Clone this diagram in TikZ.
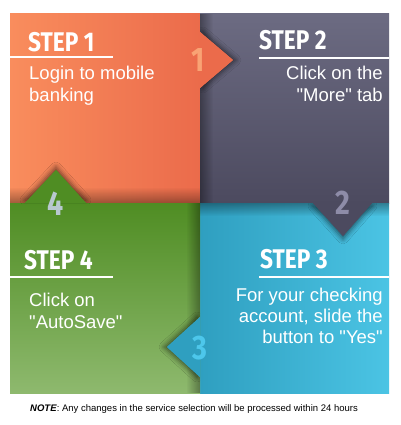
\documentclass[tikz,border=0pt]{standalone}
\usepackage{fontspec}
\setmainfont{Liberation Sans}[Ligatures=TeXOff]
\newfontfamily\stepfont[FakeStretch=0.84]{Fira Sans}
\usetikzlibrary{fadings,shadows.blur}

\definecolor{orangeL}{HTML}{F98D5D}
\definecolor{orangeD}{HTML}{EB6B4B}
\definecolor{slateL}{HTML}{6C6B82}
\definecolor{slateD}{HTML}{4C4A5F}
\definecolor{aquaD}{HTML}{2F9FC0}
\definecolor{aquaL}{HTML}{4BC4E4}
\definecolor{leafD}{HTML}{4F8D23}
\definecolor{leafL}{HTML}{8EB96E}
\definecolor{numone}{HTML}{F9A374}
\definecolor{numtwo}{HTML}{8E8CA8}
\definecolor{numthree}{HTML}{4DC7EB}
\definecolor{numfour}{HTML}{B8C8CF}

\tikzfading[name=fadeS, top color=transparent!100, bottom color=transparent!0]
\tikzfading[name=fadeN, top color=transparent!0, bottom color=transparent!100]
\tikzfading[name=fadeW, left color=transparent!0, right color=transparent!100]
\tikzfading[name=fadeE, left color=transparent!100, right color=transparent!0]

\tikzset{
  steptitle/.style={font=\stepfont\bfseries\fontsize{27}{27}\selectfont, text=white, inner sep=0pt},
  stepnum/.style={font=\stepfont\bfseries\fontsize{34}{34}\selectfont, inner sep=0pt},
  body/.style={font=\fontsize{18.5}{22}\selectfont, text=white, inner sep=0pt},
  rule/.style={white, line width=2pt},
  edgeshade/.style={black, opacity=0.35},
}

\begin{document}
\begin{tikzpicture}[x=1pt,y=-1pt]
\useasboundingbox (0,0) rectangle (400,425);
\fill[white] (0,0) rectangle (400,425);
% the four quarters
\shade[left color=orangeL, right color=orangeD] (10,14) rectangle (200,203);
\shade[top color=slateL, bottom color=slateD] (200,14) rectangle (389,203);
\shade[left color=aquaD, right color=aquaL] (200,203) rectangle (389,393);
\shade[top color=leafD, bottom color=leafL] (10,203) rectangle (200,393);
% shade along the borders
\fill[edgeshade, path fading=fadeS] (10,187) rectangle (200,203);
\fill[edgeshade, path fading=fadeW] (200,14) rectangle (213,203);
\fill[edgeshade, path fading=fadeN] (200,203) rectangle (389,216);
\fill[edgeshade, path fading=fadeE] (186,203) rectangle (200,393);
% pointers
\begin{scope}
\clip (200,14) rectangle (389,203);
\fill[orangeD, blur shadow={shadow xshift=3pt, shadow yshift=0pt, shadow opacity=55, shadow blur radius=5pt}] (200,32) -- (233,60) -- (200,88) -- cycle;
\end{scope}
\fill[orangeD] (200,32) -- (233,60) -- (200,88) -- cycle;
\begin{scope}
\clip (200,203) rectangle (389,393);
\fill[slateD, blur shadow={shadow xshift=0pt, shadow yshift=-3pt, shadow opacity=55, shadow blur radius=5pt}] (313,203) -- (343,236) -- (372,203) -- cycle;
\end{scope}
\fill[slateD] (313,203) -- (343,236) -- (372,203) -- cycle;
\begin{scope}
\clip (10,203) rectangle (200,393);
\fill[aquaD, blur shadow={shadow xshift=-3pt, shadow yshift=0pt, shadow opacity=55, shadow blur radius=5pt}] (200,317) -- (167,347) -- (200,377) -- cycle;
\end{scope}
\fill[aquaD] (200,317) -- (167,347) -- (200,377) -- cycle;
\begin{scope}
\clip (10,14) rectangle (200,203);
\fill[leafD, blur shadow={shadow xshift=0pt, shadow yshift=3pt, shadow opacity=55, shadow blur radius=5pt}] (25,203) -- (56,170) -- (86,203) -- cycle;
\end{scope}
\fill[leafD] (25,203) -- (56,170) -- (86,203) -- cycle;
% numbers
\node[stepnum, text=numone] (n1) at (198,60) {1};
\node[stepnum, text=numtwo] (n2) at (343,203) {2};
\node[stepnum, text=numthree] (n3) at (200,348) {3};
\node[stepnum, text=numfour] (n4) at (56,204) {4};
% titles
\node[steptitle, anchor=base west] (t1) at (28,52) {STEP 1};
\node[steptitle, anchor=base west] (t2) at (259,50) {STEP 2};
\node[steptitle, anchor=base west] (t3) at (260,268) {STEP 3};
\node[steptitle, anchor=base west] (t4) at (24,269) {STEP 4};
\draw[rule] (10,57.5) -- (113,57.5);
\draw[rule] (259,58) -- (389,58);
\draw[rule] (259,277) -- (389,277);
\draw[rule] (10,277) -- (113,277);
% texts (base = last line)
\node[body, anchor=base west, align=left] (b1) at (29,102) {Login to mobile\\banking};
\node[body, anchor=base east, align=right] (b2) at (383,102) {Click on the\\"More" tab};
\node[body, anchor=base east, align=right, font=\fontsize{18.5}{21}\selectfont] (b3) at (383,343) {For your checking\\account, slide the\\button to "Yes"};
\node[body, anchor=base west, align=left] (b4) at (29,328) {Click on\\"AutoSave"};
\node[anchor=base west, inner sep=0pt, font=\fontsize{9.5}{11}\selectfont] (note) at (30,411) {\textbf{\textit{NOTE}}: Any changes in the service selection will be processed within 24 hours};
\end{tikzpicture}
\end{document}
